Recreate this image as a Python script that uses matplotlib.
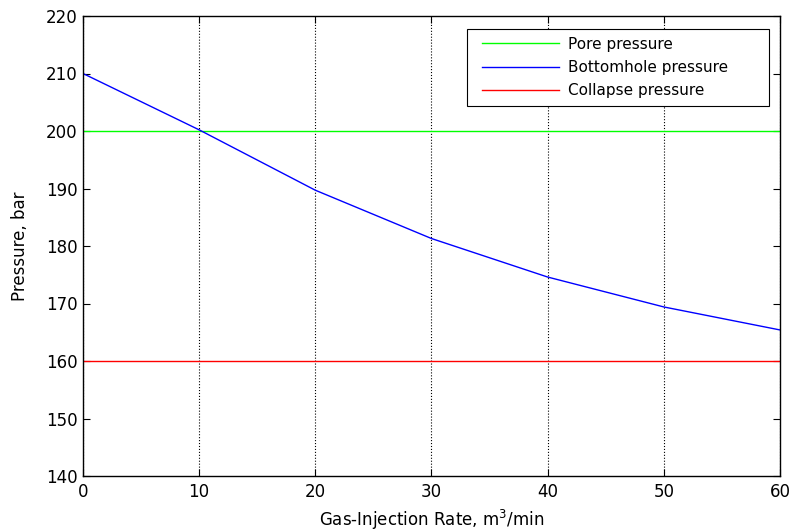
import matplotlib
matplotlib.use("Agg")
import matplotlib.pyplot as plt
from matplotlib.lines import Line2D
from matplotlib.legend_handler import HandlerLine2D

# gas injection rate, m3/min
rate = [0, 10, 20, 30, 40, 50, 60]
# pressures, bar
bottomhole = [210.0, 200.2, 189.7, 181.3, 174.6, 169.4, 165.4]
pore = 200
collapse = 160

plt.rcParams['font.family'] = ['DejaVu Sans']

fig = plt.figure(figsize=(7.94, 5.32), dpi=100)
ax = fig.add_axes([83 / 794, 1 - 476 / 532, 697 / 794, 460 / 532])

ax.plot([rate[0], rate[-1]], [pore, pore], color='#00ff00', lw=1, label='Pore pressure')
ax.plot(rate, bottomhole, color='#0000ff', lw=1, label='Bottomhole pressure')
ax.plot([rate[0], rate[-1]], [collapse, collapse], color='#ff0000', lw=1, label='Collapse pressure')

ax.set_xlim(0, 60)
ax.set_ylim(140, 220)
ax.set_xticks(range(0, 61, 10))
ax.set_yticks(range(140, 221, 10))
ax.xaxis.grid(True, color='black', linestyle=':', lw=0.8)
ax.tick_params(direction='in', top=True, right=True, labelsize=12, length=5, width=0.8)
ax.tick_params(axis='x', pad=5)
ax.tick_params(axis='y', pad=4)
for s in ax.spines.values():
    s.set_linewidth(1.0)

ax.set_xlabel('Gas-Injection Rate, m$^3$/min', fontsize=12, labelpad=5)
ax.set_ylabel('Pressure, bar', fontsize=12, labelpad=12)

leg = ax.legend(loc='upper left', bbox_to_anchor=(0.551, 0.0, 0.433, 0.972), mode='expand',
                fontsize=11, fancybox=False, framealpha=1, edgecolor='black',
                handlelength=5.5, handletextpad=0.6, borderpad=0.5, labelspacing=0.55,
                borderaxespad=0,
                handler_map={Line2D: HandlerLine2D(xpad=0.48)})
leg.get_frame().set_linewidth(0.8)

fig.savefig('out.png', dpi=100)
